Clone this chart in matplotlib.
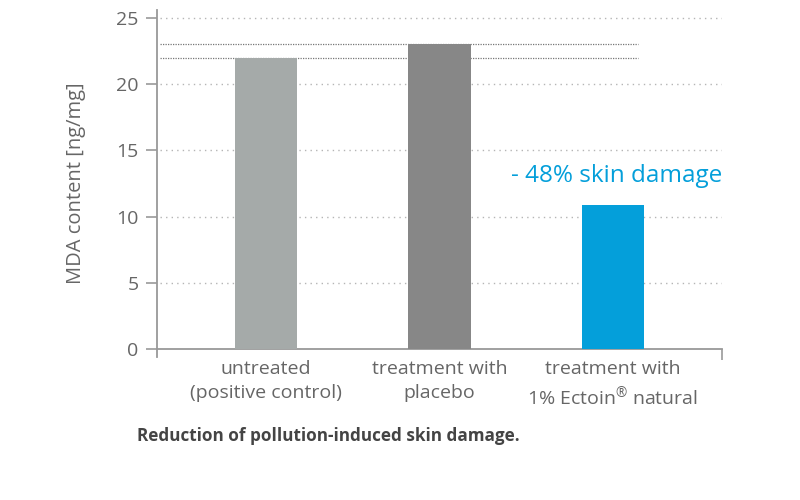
import matplotlib
matplotlib.use("Agg")
import matplotlib.pyplot as plt

# Data
categories = ["untreated\n(positive control)", "treatment with\nplacebo",
              "treatment with\n1% Ectoin$^{\u00ae}$ natural"]
mda_values = [22.0, 23.0, 10.9]
bar_colors = ["#a5aaa9", "#878787", "#049fda"]
ref_levels = [22.0, 23.0]
y_ticks = [0, 5, 10, 15, 20, 25]

plt.rcParams["font.family"] = ["Open Sans", "DejaVu Sans"]
plt.rcParams["mathtext.default"] = "regular"
text_grey = "#666666"

fig = plt.figure(figsize=(8, 5), dpi=100)
ax = fig.add_axes([0.196, 0.286, 0.7065, 0.694])

x = list(range(len(categories)))
ax.bar(x, mda_values, width=0.36, color=bar_colors, zorder=3)

ax.set_xlim(-0.63, 2.63)
ax.set_ylim(-0.6, 25.6)

# dotted grid
for yv in y_ticks[1:]:
    ax.axhline(yv, xmin=0.005, xmax=1.0, color="#b5b5b5", linestyle=(0, (1, 3)), linewidth=1, zorder=1)

# reference lines for the two controls
for yv in ref_levels:
    ax.axhline(yv, xmin=0.005, xmax=0.851, color="#777777", linestyle=(0, (1, 1)), linewidth=0.9, zorder=2)

# spines
for s in ["top", "right"]:
    ax.spines[s].set_visible(False)
ax.spines["bottom"].set_position(("data", 0))
ax.spines["bottom"].set_color("#999999")
ax.spines["left"].set_color("#999999")
ax.spines["bottom"].set_linewidth(1.3)
ax.spines["left"].set_linewidth(1.3)

ax.set_yticks(y_ticks)
ax.set_yticklabels([str(v) for v in y_ticks], fontsize=14, color=text_grey)
ax.tick_params(axis="y", length=8, width=1.2, color="#999999", pad=5)

ax.set_xticks(x)
ax.set_xticklabels(categories, fontsize=14, color=text_grey, linespacing=1.4)
ax.tick_params(axis="x", length=0, pad=8)
ax.set_xticks([2.63], minor=True)
ax.tick_params(axis="x", which="minor", length=8, width=1.2, color="#999999")

ax.set_ylabel("MDA content [ng/mg]", fontsize=14.5, color=text_grey, labelpad=22)

ax.text(2.63, 13.1, "- 48% skin damage", fontsize=17.5, color="#049fda",
        ha="right", va="center")

fig.text(0.171, 0.128, "Reduction of pollution-induced skin damage.", fontsize=12.3,
         fontweight="bold", color="#444444", ha="left", va="center")

fig.savefig("out.png", dpi=100)
